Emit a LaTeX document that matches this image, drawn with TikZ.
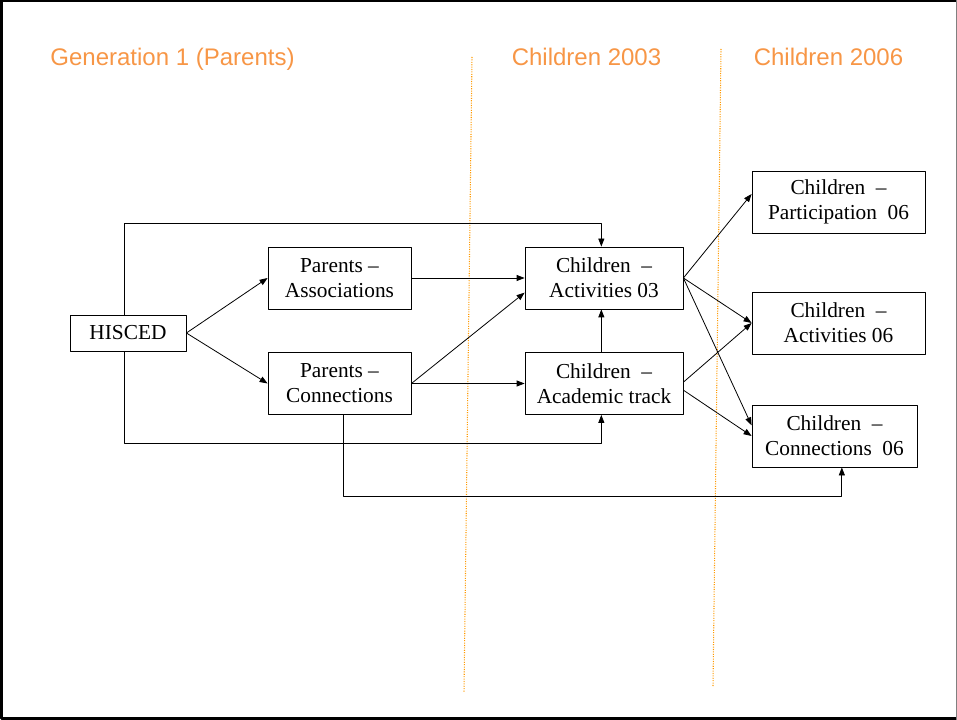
\documentclass[tikz,border=0pt]{standalone}
\usepackage{fontspec}
\setmainfont{Liberation Serif}
\newfontfamily\headfont{Liberation Sans}
\usetikzlibrary{arrows.meta}
\definecolor{headorange}{HTML}{F79646}
\definecolor{lineorange}{HTML}{FF9900}
\begin{document}
\begin{tikzpicture}[x=0.75pt,y=-0.75pt,>={Triangle[length=6pt,width=4.5pt]},line join=round,
	box/.style={draw,line width=0.6pt,align=center,inner sep=0pt,minimum height=46.5pt,font=\fontsize{16}{18.9}\selectfont},
	head/.style={text=headorange,anchor=base,font=\headfont\fontsize{18}{21.6}\selectfont},
	arr/.style={->,line width=0.6pt}]
	\useasboundingbox (0,0) rectangle (957,720);
	% frame
	\draw[line width=2.25pt] (957,1) -- (1.5,1) -- (1.5,718.5) -- (957,718.5);
	\draw[gray,line width=0.75pt] (956.5,0) -- (956.5,720);
	% time periods
	\draw[lineorange,densely dotted,line width=0.8pt] (472,57) -- (464,692) (721,49) -- (713,686);
	\foreach \t/\x in {Generation 1 (Parents)/172.5,Children 2003/586.5,Children 2006/828.5}
		\node[head] at (\x,66) {\t};
	% boxes
	\node[box,minimum width=87pt,minimum height=27pt] (HIS) at (128,333) {HISCED};
	\node[box,minimum width=107.25pt] (PAss) at (339.5,278) {Parents --\\Associations};
	\node[box,minimum width=107.25pt] (PCon) at (339.5,383.5) {Parents --\\Connections};
	\node[box,minimum width=118.5pt] (CAct) at (604,278) {Children~~--\\Activities 03};
	\node[box,minimum width=118.5pt] (CAca) at (604,383.5) {Children~~--\\Academic track};
	\node[box,minimum width=129.75pt] (CPar) at (838.5,202) {Children~~--\\Participation~~06};
	\node[box,minimum width=129.75pt] (CAsix) at (838.5,323) {Children~~--\\Activities 06};
	\node[box,minimum width=123.75pt] (CCon) at (834.5,436) {Children~~--\\Connections~~06};
	% paths
	\draw[arr] (HIS.east) -- (PAss.west);
	\draw[arr] (HIS.east) -- (PCon.west);
	\draw[arr] ([xshift=-3pt]HIS.north) -- ++(0,-91) -| ([xshift=-2pt]CAct.north);
	\draw[arr] ([xshift=-3pt]HIS.south) -- ++(0,92) -| ([xshift=-2pt]CAca.south);
	\draw[arr] (PAss.east) -- (CAct.west);
	\draw[arr] (PCon.east) -- (CAca.west);
	\draw[arr] (PCon.east) -- ([yshift=-11pt]CAct.west);
	\draw[arr] ([xshift=3pt]PCon.south) -- ++(0,81) -| ([xshift=5.5pt]CCon.south);
	\draw[arr] ([xshift=-2pt]CAca.north) -- ([xshift=-2pt]CAct.south);
	\draw[arr] (CAct.east) -- ([yshift=6pt]CPar.west);
	\draw[arr] (CAct.east) -- (CAsix.west);
	\draw[arr] (CAct.east) -- ([yshift=8pt]CCon.west);
	\draw[arr] ([yshift=1pt]CAca.east) -- (CAsix.west);
	\draw[arr] ([yshift=-5pt]CAca.east) -- (CCon.west);
\end{tikzpicture}
\end{document}
